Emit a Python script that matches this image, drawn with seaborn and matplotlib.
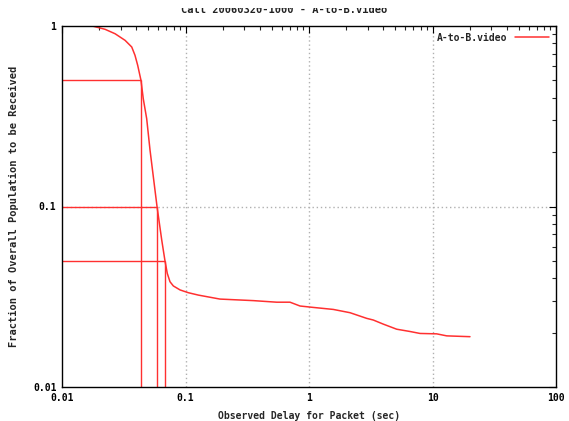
import matplotlib
matplotlib.use("Agg")
import matplotlib.pyplot as plt
from matplotlib.patches import Rectangle
import seaborn as sns
import pandas as pd

# Delay CDF (complementary): observed delay in seconds vs fraction still to be received
delay_sec = [0.0176, 0.0223, 0.0269, 0.0324, 0.0367, 0.0390, 0.0410, 0.0436,
             0.0455, 0.0485, 0.0516, 0.0566, 0.0588, 0.0642, 0.0682, 0.0712,
             0.0749, 0.0797, 0.0903, 0.1054, 0.127, 0.190, 0.354, 0.548,
             0.702, 0.846, 1.083, 1.573, 2.148, 2.933, 3.316, 3.996, 5.131,
             6.574, 7.923, 10.81, 13.03, 20.12]
fraction = [1.0, 0.959, 0.906, 0.833, 0.765, 0.688, 0.606, 0.5,
            0.3956, 0.3065, 0.2056, 0.1234, 0.1, 0.0652, 0.05, 0.0426,
            0.0383, 0.0363, 0.0345, 0.0333, 0.0323, 0.0307, 0.0301, 0.0295,
            0.0295, 0.0281, 0.0276, 0.0269, 0.0258, 0.0240, 0.0235, 0.0223, 0.0209,
            0.0203, 0.0198, 0.0197, 0.0192, 0.0190]

# Quantile guide lines (fraction level -> delay where it is reached)
guide_levels = [0.5, 0.1, 0.05]
guide_delays = [0.0436, 0.0588, 0.0682]

series_name = "A-to-B.video"
title_text = "Call 20060320-1000 - A-to-B.video"

sns.set_style("white")
plt.rcParams["font.family"] = ["DejaVu Sans Mono", "DejaVu Sans"]
plt.rcParams["font.weight"] = "bold"

red = "#ff3030"

fig = plt.figure(figsize=(5.69, 4.21), dpi=100)
ax = fig.add_axes([62 / 569, 1 - 387 / 421, (556 - 62) / 569, (387 - 26) / 421])

df = pd.DataFrame({"delay": delay_sec, "fraction": fraction, "series": series_name})
sns.lineplot(data=df, x="delay", y="fraction", hue="series", palette=[red],
             sort=False, estimator=None, linewidth=1.1, ax=ax)

ax.set_xscale("log")
ax.set_yscale("log")
ax.set_xlim(0.01, 100)
ax.set_ylim(0.01, 1)

# guide lines: horizontal from the left edge, vertical down to the bottom
ax.hlines(guide_levels, 0.01, guide_delays, color=red, linewidth=1.0)
ax.vlines(guide_delays, 0.01, guide_levels, color=red, linewidth=1.0)

# dotted grid at decades only
for xv in [0.1, 1, 10]:
    ax.axvline(xv, color="#b0b0b0", linestyle=(0, (1, 2)), linewidth=1.0, zorder=0)
ax.axhline(0.1, color="#b0b0b0", linestyle=(0, (1, 2)), linewidth=1.0, zorder=0)

ax.set_xticks([0.01, 0.1, 1, 10, 100])
ax.set_xticklabels(["0.01", "0.1", "1", "10", "100"])
ax.set_yticks([0.01, 0.1, 1])
ax.set_yticklabels(["0.01", "0.1", "1"])
ax.tick_params(axis="both", which="major", direction="in", length=5, width=0.8,
               top=True, right=True, labelsize=7, pad=4, colors="black")
ax.tick_params(axis="both", which="minor", direction="in", length=3, width=0.8,
               top=True, right=True)
for lab in ax.get_xticklabels() + ax.get_yticklabels():
    lab.set_fontweight("bold")

for sp in ax.spines.values():
    sp.set_visible(True)
    sp.set_color("black")
    sp.set_linewidth(1.0)

ax.set_xlabel("Observed Delay for Packet (sec)", fontsize=7, fontweight="bold", labelpad=6)
ax.set_ylabel("Fraction of Overall Population to be Received", fontsize=7.5,
              fontweight="bold", labelpad=10)

ax.legend(loc="upper right", frameon=False, markerfirst=False,
          handlelength=3.5, borderaxespad=0.3, prop={"weight": "bold", "size": 7})

# title sits at the very top edge; its upper part runs off the canvas
fig.text(0.5, 1 - 13 / 421, title_text, ha="center", va="baseline",
         fontsize=7.5, fontweight="bold", color="#222222", zorder=1)
fig.patches.append(Rectangle((0, 1 - 8 / 421), 1, 8 / 421, transform=fig.transFigure,
                             facecolor="white", edgecolor="none", zorder=20))

fig.savefig("out.png", dpi=100)
